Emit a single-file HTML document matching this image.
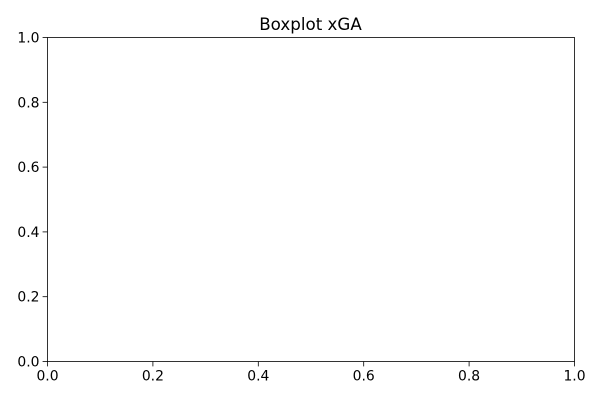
<!DOCTYPE html>
<html><head><meta charset="utf-8"><style>
html,body{margin:0;padding:0;background:#fff;}
svg{display:block;font-family:"DejaVu Sans","Liberation Sans",sans-serif;}
</style></head><body>
<svg id="chart" width="600" height="400" viewBox="0 0 600 400">
<rect x="0" y="0" width="600" height="400" fill="#fff"/>
<text x="310.5" y="30" text-anchor="middle" font-size="16.7" fill="#000">Boxplot xGA</text>
<g id="axes"></g>
</svg>
<script>
const xTicks = [0.0, 0.2, 0.4, 0.6, 0.8, 1.0];
const yTicks = [0.0, 0.2, 0.4, 0.6, 0.8, 1.0];
const xTickLabels = ["0.0","0.2","0.4","0.6","0.8","1.0"];
const yTickLabels = ["0.0","0.2","0.4","0.6","0.8","1.0"];
const L=47.5,R=574.5,T=37.5,B=361.5;
const xs=v=>L+(R-L)*v, ys=v=>B-(B-T)*v;
const NS="http://www.w3.org/2000/svg";
const g=document.getElementById('axes');
function mk(tag,attrs){const e=document.createElementNS(NS,tag);for(const k in attrs)e.setAttribute(k,attrs[k]);g.appendChild(e);return e;}
xTicks.forEach((v,i)=>{
  const t=mk('line',{x1:xs(v),x2:xs(v),y1:B,y2:B+4.9,stroke:'#000','stroke-width':0.8});
  
  
  const l=mk('text',{x:xs(v),y:B+19,'text-anchor':'middle','font-size':13.9,fill:'#000'});
  l.textContent=xTickLabels[i];
  
  
});
yTicks.forEach((v,i)=>{
  const t=mk('line',{x1:L-4.9,x2:L,y1:ys(v),y2:ys(v),stroke:'#000','stroke-width':0.8});
  
  
  const l=mk('text',{x:L-8,y:ys(v)+5,'text-anchor':'end','font-size':13.9,fill:'#000'});
  l.textContent=yTickLabels[i];
  
  
});
const f=mk('rect',{x:L,y:T,width:R-L,height:B-T,fill:'none',stroke:'#000','stroke-width':0.8});


</script>
</body></html>
